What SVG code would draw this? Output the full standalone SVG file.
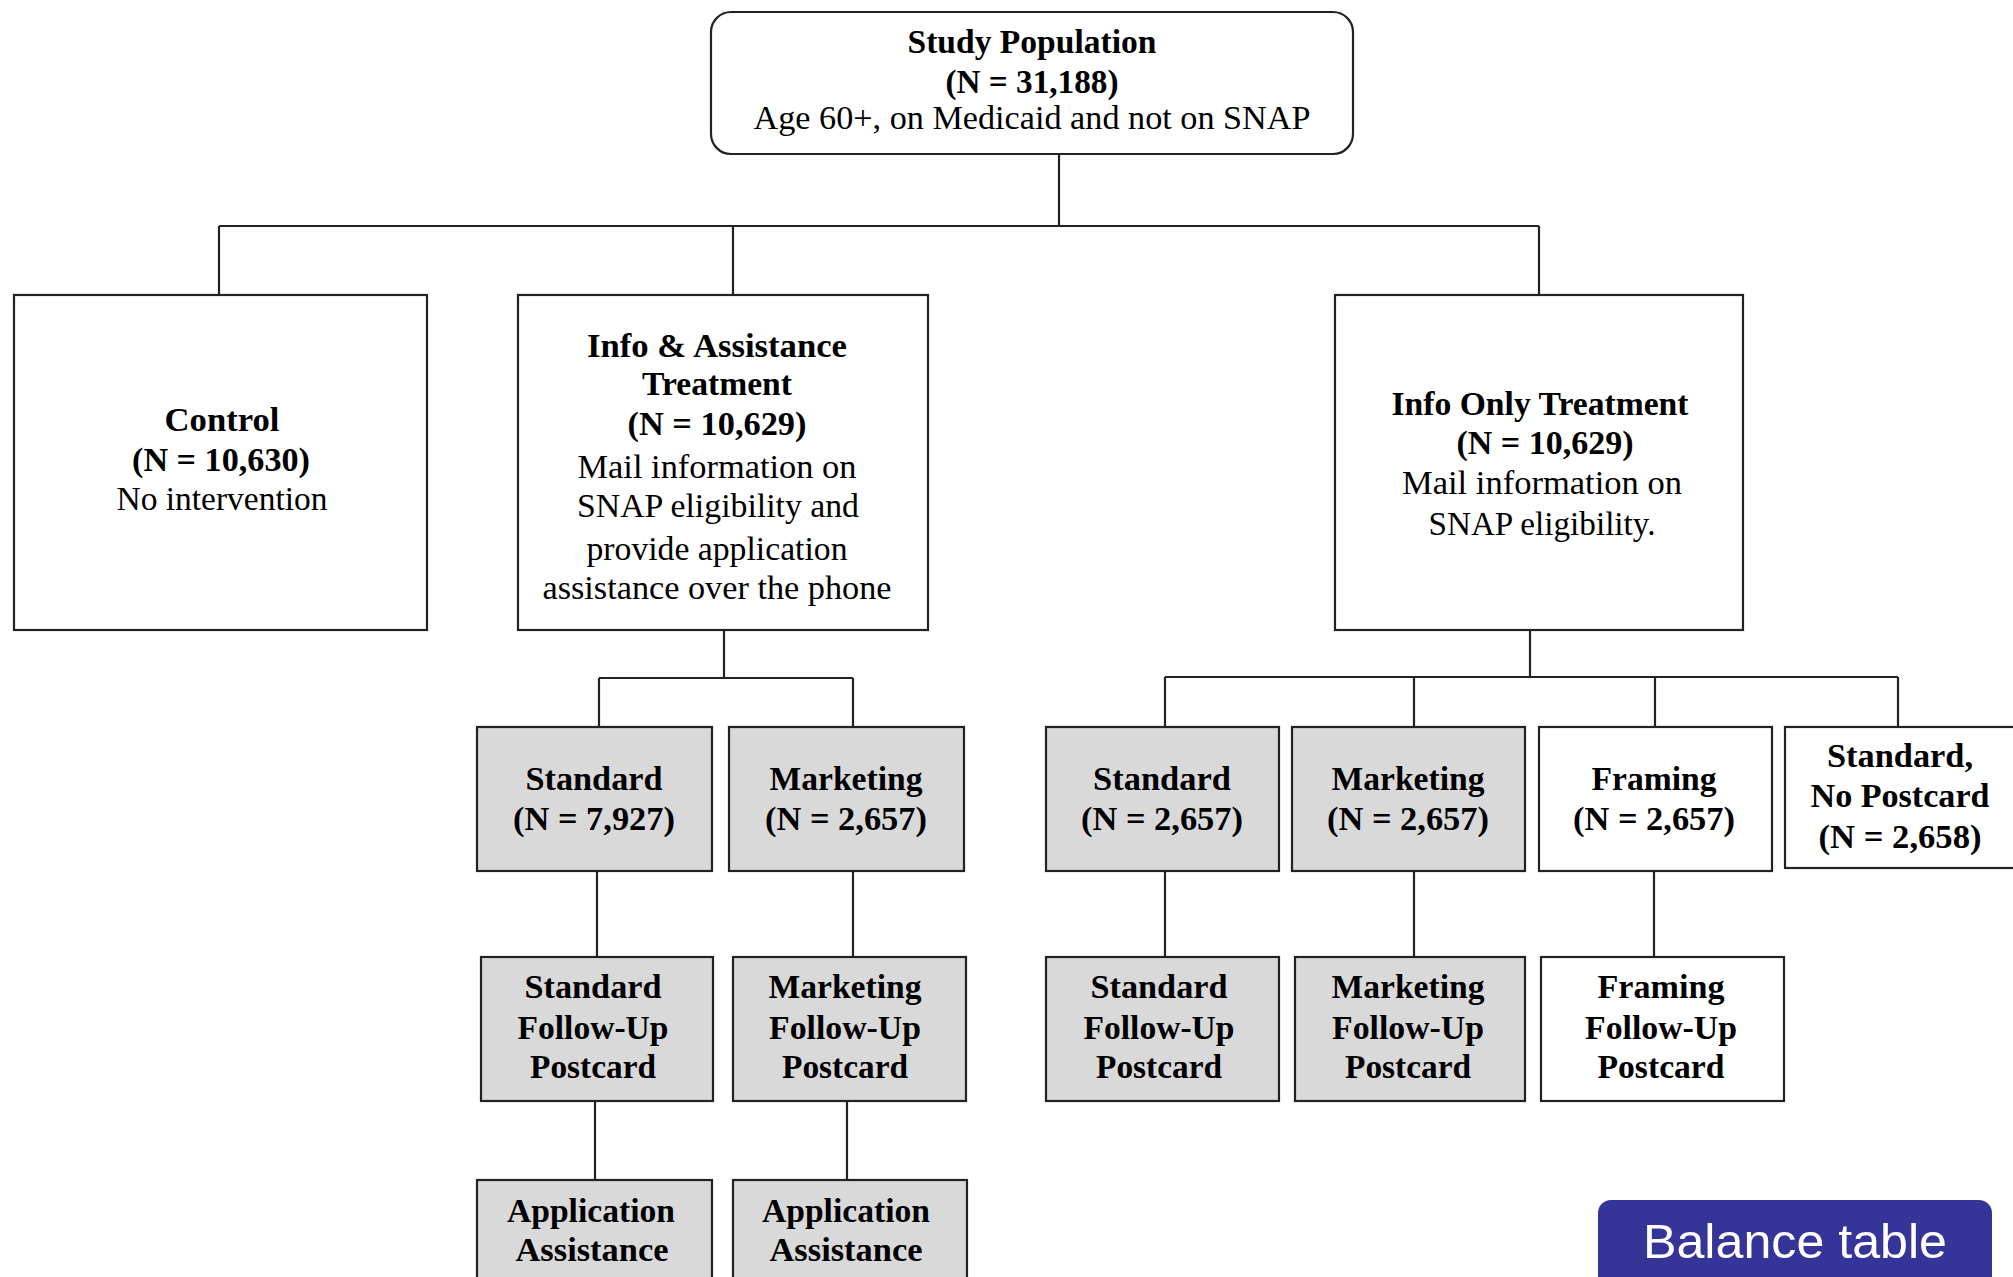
<svg xmlns="http://www.w3.org/2000/svg" width="2013" height="1277" viewBox="0 0 2013 1277">
<style>
.box{fill:#fff;stroke:#222;stroke-width:2.2}
.g{fill:#d9d9d9}
.t{font-family:"Liberation Serif","Times New Roman",serif;font-size:33px;fill:#000;text-anchor:middle}
.b{font-weight:bold}
.c{fill:none;stroke:#222;stroke-width:2.2}
.btn{fill:#353599}
.bt{font-family:"Liberation Sans",Arial,sans-serif;font-size:49px;fill:#fff;text-anchor:middle}
</style>
<rect width="2013" height="1277" fill="#fff"/>
<g id="connectors">
<path class="c" d="M1059 154V226M219 226H1539M219 226V295M733 226V295M1539 226V295"/>
<path class="c" d="M724 630V678M599 678H853M599 678V727M853 678V727"/>
<path class="c" d="M1530 630V677M1165 677H1898M1165 677V727M1414 677V727M1655 677V727M1898 677V727"/>
<path class="c" d="M597 871V957M853 871V957M1165 871V957M1414 871V957M1654 871V957"/>
<path class="c" d="M595 1101V1180M847 1101V1180"/>
</g>
<g id="study-population">
<rect class="box" x="711" y="12" width="642" height="142" rx="20"/>
<text class="t b" x="1032" y="53" textLength="249" lengthAdjust="spacingAndGlyphs">Study Population</text>
<text class="t b" x="1032" y="93" textLength="173" lengthAdjust="spacingAndGlyphs">(N = 31,188)</text>
<text class="t" x="1032" y="129" textLength="557" lengthAdjust="spacingAndGlyphs">Age 60+, on Medicaid and not on SNAP</text>
</g>
<g id="control">
<rect class="box" x="14" y="295" width="413" height="335"/>
<text class="t b" x="222" y="431" textLength="115" lengthAdjust="spacingAndGlyphs">Control</text>
<text class="t b" x="221" y="471" textLength="178" lengthAdjust="spacingAndGlyphs">(N = 10,630)</text>
<text class="t" x="222" y="510" textLength="211" lengthAdjust="spacingAndGlyphs">No intervention</text>
</g>
<g id="info-assistance">
<rect class="box" x="518" y="295" width="410" height="335"/>
<text class="t b" x="717" y="357" textLength="260" lengthAdjust="spacingAndGlyphs">Info &amp; Assistance</text>
<text class="t b" x="717" y="395" textLength="150" lengthAdjust="spacingAndGlyphs">Treatment</text>
<text class="t b" x="717" y="435" textLength="179" lengthAdjust="spacingAndGlyphs">(N = 10,629)</text>
<text class="t" x="717" y="478" textLength="279" lengthAdjust="spacingAndGlyphs">Mail information  on</text>
<text class="t" x="718" y="517" textLength="282" lengthAdjust="spacingAndGlyphs">SNAP eligibility  and</text>
<text class="t" x="717" y="560" textLength="261" lengthAdjust="spacingAndGlyphs">provide application</text>
<text class="t" x="717" y="599" textLength="349" lengthAdjust="spacingAndGlyphs">assistance over the phone</text>
</g>
<g id="info-only">
<rect class="box" x="1335" y="295" width="408" height="335"/>
<text class="t b" x="1540" y="415" textLength="297" lengthAdjust="spacingAndGlyphs">Info Only Treatment</text>
<text class="t b" x="1545" y="454" textLength="177" lengthAdjust="spacingAndGlyphs">(N = 10,629)</text>
<text class="t" x="1542" y="494" textLength="280" lengthAdjust="spacingAndGlyphs">Mail information  on</text>
<text class="t" x="1542" y="535" textLength="227" lengthAdjust="spacingAndGlyphs">SNAP eligibility.</text>
</g>
<g id="ia-standard">
<rect class="box g" x="477" y="727" width="235" height="144"/>
<text class="t b" x="594" y="790" textLength="137" lengthAdjust="spacingAndGlyphs">Standard</text>
<text class="t b" x="594" y="830" textLength="162" lengthAdjust="spacingAndGlyphs">(N = 7,927)</text>
</g>
<g id="ia-marketing">
<rect class="box g" x="729" y="727" width="235" height="144"/>
<text class="t b" x="846" y="790" textLength="153" lengthAdjust="spacingAndGlyphs">Marketing</text>
<text class="t b" x="846" y="830" textLength="162" lengthAdjust="spacingAndGlyphs">(N = 2,657)</text>
</g>
<g id="ia-standard-followup">
<rect class="box g" x="481" y="957" width="232" height="144"/>
<text class="t b" x="593" y="998" textLength="137" lengthAdjust="spacingAndGlyphs">Standard</text>
<text class="t b" x="593" y="1039" textLength="151" lengthAdjust="spacingAndGlyphs">Follow-Up</text>
<text class="t b" x="593" y="1078" textLength="126" lengthAdjust="spacingAndGlyphs">Postcard</text>
</g>
<g id="ia-marketing-followup">
<rect class="box g" x="733" y="957" width="233" height="144"/>
<text class="t b" x="845" y="998" textLength="153" lengthAdjust="spacingAndGlyphs">Marketing</text>
<text class="t b" x="845" y="1039" textLength="152" lengthAdjust="spacingAndGlyphs">Follow-Up</text>
<text class="t b" x="845" y="1078" textLength="126" lengthAdjust="spacingAndGlyphs">Postcard</text>
</g>
<g id="ia-standard-assistance">
<rect class="box g" x="477" y="1180" width="235" height="120"/>
<text class="t b" x="591" y="1222" textLength="168" lengthAdjust="spacingAndGlyphs">Application</text>
<text class="t b" x="592" y="1261" textLength="153" lengthAdjust="spacingAndGlyphs">Assistance</text>
</g>
<g id="ia-marketing-assistance">
<rect class="box g" x="733" y="1180" width="234" height="120"/>
<text class="t b" x="846" y="1222" textLength="168" lengthAdjust="spacingAndGlyphs">Application</text>
<text class="t b" x="846" y="1261" textLength="153" lengthAdjust="spacingAndGlyphs">Assistance</text>
</g>
<g id="io-standard">
<rect class="box g" x="1046" y="727" width="233" height="144"/>
<text class="t b" x="1162" y="790" textLength="138" lengthAdjust="spacingAndGlyphs">Standard</text>
<text class="t b" x="1162" y="830" textLength="162" lengthAdjust="spacingAndGlyphs">(N = 2,657)</text>
</g>
<g id="io-marketing">
<rect class="box g" x="1292" y="727" width="233" height="144"/>
<text class="t b" x="1408" y="790" textLength="153" lengthAdjust="spacingAndGlyphs">Marketing</text>
<text class="t b" x="1408" y="830" textLength="162" lengthAdjust="spacingAndGlyphs">(N = 2,657)</text>
</g>
<g id="io-framing">
<rect class="box" x="1539" y="727" width="233" height="144"/>
<text class="t b" x="1654" y="790" textLength="125" lengthAdjust="spacingAndGlyphs">Framing</text>
<text class="t b" x="1654" y="830" textLength="162" lengthAdjust="spacingAndGlyphs">(N = 2,657)</text>
</g>
<g id="io-standard-no-postcard">
<rect class="box" x="1785" y="727" width="240" height="141"/>
<text class="t b" x="1900" y="767" textLength="146" lengthAdjust="spacingAndGlyphs">Standard,</text>
<text class="t b" x="1900" y="807" textLength="179" lengthAdjust="spacingAndGlyphs">No Postcard</text>
<text class="t b" x="1900" y="848" textLength="163" lengthAdjust="spacingAndGlyphs">(N = 2,658)</text>
</g>
<g id="io-standard-followup">
<rect class="box g" x="1046" y="957" width="233" height="144"/>
<text class="t b" x="1159" y="998" textLength="137" lengthAdjust="spacingAndGlyphs">Standard</text>
<text class="t b" x="1159" y="1039" textLength="151" lengthAdjust="spacingAndGlyphs">Follow-Up</text>
<text class="t b" x="1159" y="1078" textLength="126" lengthAdjust="spacingAndGlyphs">Postcard</text>
</g>
<g id="io-marketing-followup">
<rect class="box g" x="1295" y="957" width="230" height="144"/>
<text class="t b" x="1408" y="998" textLength="153" lengthAdjust="spacingAndGlyphs">Marketing</text>
<text class="t b" x="1408" y="1039" textLength="152" lengthAdjust="spacingAndGlyphs">Follow-Up</text>
<text class="t b" x="1408" y="1078" textLength="126" lengthAdjust="spacingAndGlyphs">Postcard</text>
</g>
<g id="io-framing-followup">
<rect class="box" x="1541" y="957" width="243" height="144"/>
<text class="t b" x="1661" y="998" textLength="127" lengthAdjust="spacingAndGlyphs">Framing</text>
<text class="t b" x="1661" y="1039" textLength="152" lengthAdjust="spacingAndGlyphs">Follow-Up</text>
<text class="t b" x="1661" y="1078" textLength="127" lengthAdjust="spacingAndGlyphs">Postcard</text>
</g>
<g id="balance-table">
<rect class="btn" x="1598" y="1200" width="394" height="100" rx="13"/>
<text class="bt" x="1795" y="1258" textLength="304" lengthAdjust="spacingAndGlyphs">Balance table</text>
</g>
</svg>
